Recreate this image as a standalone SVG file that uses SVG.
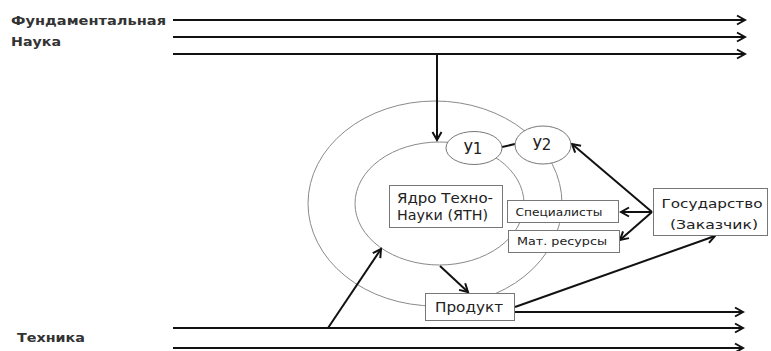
<svg xmlns="http://www.w3.org/2000/svg" width="771" height="351" viewBox="0 0 771 351">
<defs>
<marker id="ah" markerUnits="userSpaceOnUse" viewBox="-10 -6 12 12" refX="0" refY="0" markerWidth="12" markerHeight="12" orient="auto">
<path d="M-8,-4.5 L0,0 L-8,4.5" fill="none" stroke="#111" stroke-width="2" stroke-linejoin="miter"/>
</marker>
</defs>
<style>
.t{font-family:"DejaVu Sans","Verdana",sans-serif;fill:#222}
.b{font-weight:bold;font-size:13px;fill:#333}
.ell{fill:none;stroke:#8a8a8a;stroke-width:1}
.box{fill:#fff;stroke:#777;stroke-width:1}
.ln{fill:none;stroke:#111;stroke-width:2}
.arr{fill:none;stroke:#111;stroke-width:2;marker-end:url(#ah)}
</style>
<rect width="771" height="351" fill="#fff"/>

<g id="labels">
<text class="t b" x="11" y="25" textLength="155" lengthAdjust="spacingAndGlyphs">Фундаментальная</text>
<text class="t b" x="11" y="46" textLength="50" lengthAdjust="spacingAndGlyphs">Наука</text>
<text class="t b" x="17" y="342" textLength="68" lengthAdjust="spacingAndGlyphs">Техника</text>
</g>

<g id="rings">
<ellipse class="ell" cx="435" cy="203.5" rx="127" ry="102.5"/>
<ellipse class="ell" cx="439.5" cy="203.5" rx="84.5" ry="61.5"/>
</g>

<g id="connectors">
<line class="arr" x1="173" y1="20" x2="745" y2="20"/>
<line class="arr" x1="173" y1="37" x2="745" y2="37"/>
<line class="arr" x1="173" y1="54" x2="745" y2="54"/>
<line class="arr" x1="437" y1="54" x2="437" y2="140"/>
<line class="ln" x1="502" y1="147" x2="515" y2="144"/>
<line class="arr" x1="652" y1="212" x2="572" y2="144"/>
<line class="arr" x1="652" y1="212" x2="621" y2="212"/>
<line class="arr" x1="652" y1="212" x2="620" y2="240"/>
<line class="arr" x1="515" y1="307" x2="715" y2="236"/>
<line class="arr" x1="440" y1="266" x2="468" y2="292"/>
<line class="arr" x1="328" y1="328" x2="381" y2="249"/>
<line class="arr" x1="514" y1="312" x2="743" y2="312"/>
<line class="arr" x1="173" y1="328" x2="743" y2="328"/>
<line class="arr" x1="173" y1="348" x2="743" y2="348"/>
</g>

<g id="u1">
<ellipse cx="474" cy="148" rx="28" ry="16.5" fill="#fff" stroke="#777" stroke-width="1"/>
<text class="t" x="473" y="154" font-size="15" text-anchor="middle">У1</text>
</g>
<g id="u2">
<ellipse cx="543" cy="145" rx="28" ry="19" fill="#fff" stroke="#777" stroke-width="1"/>
<text class="t" x="542" y="150" font-size="15" text-anchor="middle">У2</text>
</g>

<g id="core">
<rect class="box" x="389.5" y="185.5" width="113" height="42"/>
<text class="t" x="397" y="203" font-size="13.5" textLength="96" lengthAdjust="spacingAndGlyphs">Ядро Техно-</text>
<text class="t" x="397" y="220" font-size="13.5" textLength="91" lengthAdjust="spacingAndGlyphs">Науки (ЯТН)</text>
</g>

<g id="specialists">
<rect class="box" x="507.5" y="200.5" width="111" height="22"/>
<text class="t" x="559" y="216" font-size="11" text-anchor="middle" textLength="87" lengthAdjust="spacingAndGlyphs">Специалисты</text>
</g>

<g id="resources">
<rect class="box" x="508.5" y="230.5" width="111" height="22"/>
<text class="t" x="562" y="245" font-size="11" text-anchor="middle" textLength="90" lengthAdjust="spacingAndGlyphs">Мат. ресурсы</text>
</g>

<g id="state">
<rect class="box" x="653.5" y="188.5" width="114" height="47"/>
<text class="t" x="712" y="208" font-size="13" text-anchor="middle" textLength="101" lengthAdjust="spacingAndGlyphs">Государство</text>
<text class="t" x="714" y="229" font-size="13" text-anchor="middle" textLength="88" lengthAdjust="spacingAndGlyphs">(Заказчик)</text>
</g>

<g id="product">
<rect class="box" x="425.5" y="293.5" width="89" height="27"/>
<text class="t" x="469" y="312" font-size="14" text-anchor="middle" textLength="68" lengthAdjust="spacingAndGlyphs">Продукт</text>
</g>
</svg>
